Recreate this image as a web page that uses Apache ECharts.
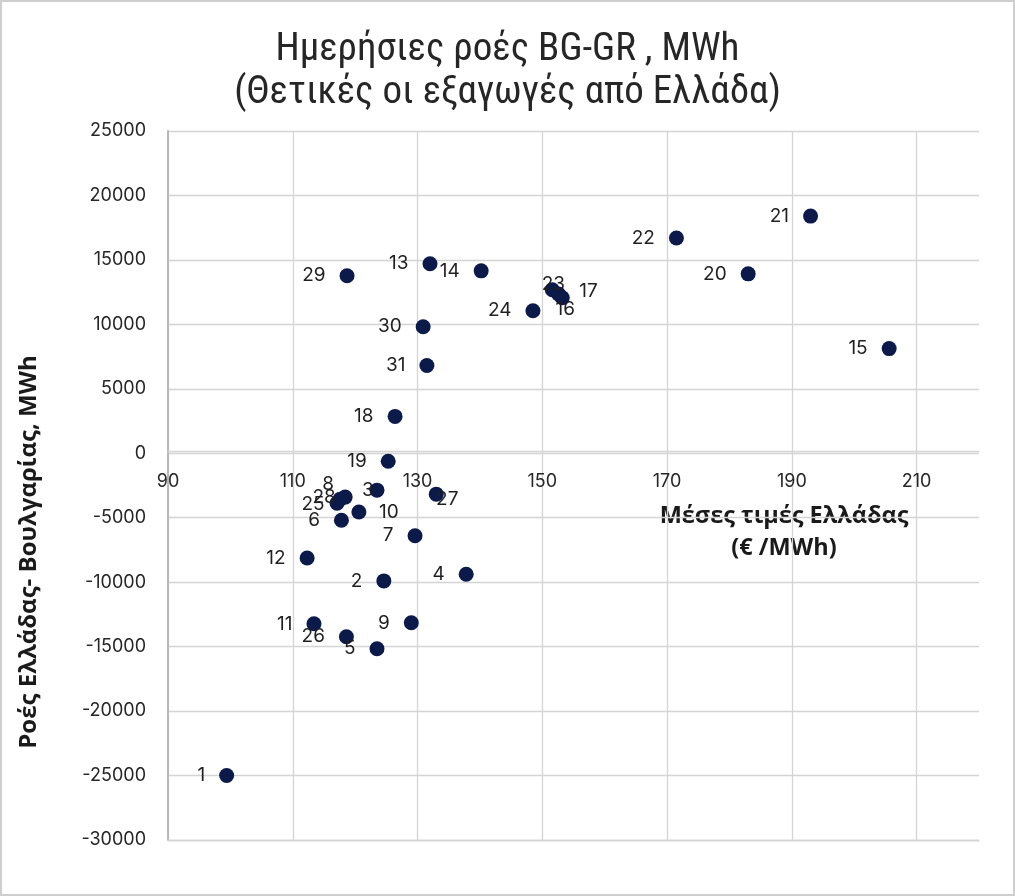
<!DOCTYPE html>
<html>
<head>
<meta charset="utf-8">
<script src="https://cdn.jsdelivr.net/npm/echarts@6/dist/echarts.min.js"></script>
<style>
html,body{margin:0;padding:0;background:#fff;}
#chart{width:1015px;height:896px;box-sizing:border-box;border:2px solid #cfcfcf;}
</style>
</head>
<body>
<div id="chart"></div>
<script>
// Day numbers (labels)
const days = [1,2,3,4,5,6,7,8,9,10,11,12,13,14,15,16,17,18,19,20,21,22,23,24,25,26,27,28,29,30,31];
// Average Greek price (€/MWh)
const prices = [99.4,124.6,123.5,137.8,123.5,117.8,129.6,117.6,129.0,120.6,113.4,112.3,132.0,140.2,205.6,153.2,152.6,126.4,125.3,183.0,193.0,171.5,151.6,148.5,117.1,118.6,133.0,118.4,118.7,130.9,131.5];
// Daily flow Greece-Bulgaria (MWh), positive = exports from Greece
const flows = [-25000,-9900,-2860,-9380,-15160,-5200,-6400,-3560,-13150,-4560,-13230,-8120,14700,14150,8120,12060,12350,2860,-620,13920,18400,16700,12680,11060,-3870,-14230,-3170,-3400,13770,9820,6810];
const xTicks = [90,110,130,150,170,190,210];
const yTicks = [-30000,-25000,-20000,-15000,-10000,-5000,0,5000,10000,15000,20000,25000];

// label placement tweaks (style only)
const labelTweaks = {
  3:[-9,0], 8:[-12,-15], 10:[30,0], 16:[3,11], 17:[30,-3], 23:[1,-6], 25:[-24,1], 27:[11,5], 28:[-21,0]
};

const data = days.map((d,i)=>{
  const item = {value:[prices[i], flows[i], d]};
  if (labelTweaks[d]) {
    item.label = {position:'inside', offset:labelTweaks[d], distance:0};
  }
  return item;
});

const gridTop = 129, gridBottom = 54, H = 896;
const yMin = yTicks[0], yMax = yTicks[yTicks.length-1];
const gridH = H - gridTop - gridBottom;
const zeroOffset = -gridH * (0 - yMin) / (yMax - yMin);

const chart = echarts.init(document.getElementById('chart'));
const axisFont = {fontFamily:'Inter, Liberation Sans, Arial, sans-serif', fontSize:18, color:'#262626'};
const gridColor = '#d4d4d4';
chart.setOption({
  animation:false,
  title:{
    text:'Ημερήσιες ροές BG-GR , MWh\n(Θετικές οι εξαγωγές από Ελλάδα)',
    left:'center', top:22,
    textStyle:{fontFamily:"'Liberation Sans Narrow', 'Roboto Condensed', sans-serif", fontWeight:'normal', fontSize:39, lineHeight:43, color:'#262626'}
  },
  grid:{left:166, right:34, top:gridTop, bottom:gridBottom, containLabel:false},
  xAxis:[{
    type:'value', min:xTicks[0], max:220, interval:20,
    position:'bottom', offset:zeroOffset,
    axisLine:{show:true, onZero:false, lineStyle:{color:gridColor, width:1.3}},
    axisTick:{show:false},
    axisLabel:Object.assign({margin:22, formatter:v=> xTicks.includes(v)? String(v):''}, axisFont),
    splitLine:{show:true, showMinLine:true, showMaxLine:false, lineStyle:{color:gridColor, width:1.3}}
  },{
    type:'value', min:xTicks[0], max:220, position:'bottom', offset:0,
    axisLine:{show:true, onZero:false, lineStyle:{color:gridColor, width:1.3}},
    axisTick:{show:false}, axisLabel:{show:false}, splitLine:{show:false}
  }],
  yAxis:{
    type:'value', min:yMin, max:yMax, interval:5000,
    axisLine:{show:true, onZero:false, lineStyle:{color:'#b8b8b8', width:2}},
    axisTick:{show:false},
    axisLabel:Object.assign({margin:22, formatter:v=>String(v)}, axisFont),
    splitLine:{show:true, showMinLine:true, showMaxLine:true, lineStyle:{color:gridColor, width:1.3}}
  },
  graphic:[
    {type:'text', x:782, y:530, style:{text:'Μέσες τιμές Ελλάδας\n(€ /MWh)', fontFamily:"'Open Sans', sans-serif", fontWeight:'bold', fontSize:23.5, lineHeight:32, fill:'#1a1a1a', align:'center', verticalAlign:'middle'}},
    {type:'text', x:27, y:550, rotation:Math.PI/2, style:{text:'Ροές Ελλάδας- Βουλγαρίας, MWh', fontFamily:"'Open Sans', sans-serif", fontWeight:'bold', fontSize:24, fill:'#1a1a1a', align:'center', verticalAlign:'middle'}}
  ],
  series:[{
    type:'scatter',
    xAxisIndex:0,
    symbolSize:15,
    itemStyle:{color:'#0b1a48', opacity:1},
    label:{show:true, position:'left', distance:14, formatter:p=>p.value[2], fontFamily:'Inter, Liberation Sans, Arial, sans-serif', fontSize:19, color:'#1f1f1f'},
    data:data
  }]
});
</script>
</body>
</html>
